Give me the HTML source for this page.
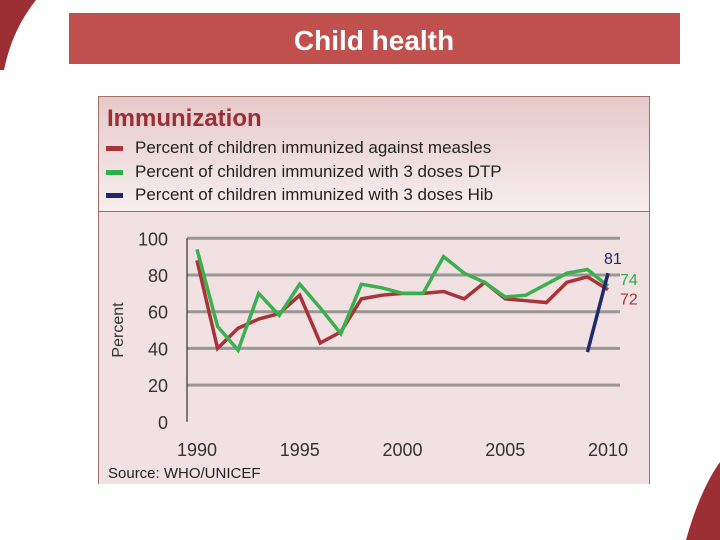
<!DOCTYPE html>
<html><head><meta charset="utf-8"><style>
body{margin:0;width:720px;height:540px;background:#fff;overflow:hidden;position:relative;font-family:"Liberation Sans",sans-serif}
svg{position:absolute;left:0;top:0}
</style></head><body>
<svg width="720" height="540" viewBox="0 0 720 540">
<defs>
<linearGradient id="lg" x1="0" y1="0" x2="0" y2="1"><stop offset="0" stop-color="#e6c9ca"/><stop offset="1" stop-color="#f7eeee"/></linearGradient>
</defs>
<path d="M0 0 L36 0 Q12 30 4 70 L0 70 Z" fill="#9b2f33"/>
<path d="M720 462 Q700 490 686 540 L720 540 Z" fill="#9b2f33"/>
<rect x="69" y="13" width="611" height="51" fill="#c0504d"/>
<text x="374" y="50" text-anchor="middle" font-size="28" font-weight="bold" fill="#fff">Child health</text>
<rect x="98.5" y="96.5" width="551" height="115" fill="url(#lg)" stroke="#a07060"/>
<rect x="98.5" y="212" width="551" height="272" fill="#f2e1e2"/>
<line x1="98.5" y1="212" x2="98.5" y2="484" stroke="#a07060"/><line x1="649.5" y1="212" x2="649.5" y2="484" stroke="#a07060"/>
<text x="107" y="126" font-size="24" font-weight="bold" fill="#9b2f33">Immunization</text>
<g font-size="17" fill="#222">
<rect x="106" y="146" width="17" height="5" fill="#a8343a"/>
<text x="135" y="153">Percent of children immunized against measles</text>
<rect x="106" y="170" width="17" height="5" fill="#2ab04c"/>
<text x="135" y="177">Percent of children immunized with 3 doses DTP</text>
<rect x="106" y="193" width="17" height="5" fill="#1f2a6b"/>
<text x="135" y="200">Percent of children immunized with 3 doses Hib</text>
</g>
<g id="plot"></g>
<text x="108" y="478" font-size="15" fill="#222">Source: WHO/UNICEF</text>
</svg>
<script>
const years=[1990,1991,1992,1993,1994,1995,1996,1997,1998,1999,2000,2001,2002,2003,2004,2005,2006,2007,2008,2009,2010];
const measles=[88,40,51,56,59,69,43,49,67,69,70,70,71,67,76,67,66,65,76,79,72];
const dtp=[94,52,39,70,58,75,62,48,75,73,70,70,90,81,76,68,69,75,81,83,74];
const hibYears=[2009,2010];
const hib=[38,81];
const yTicks=[0,20,40,60,80,100];
const xTicks=[1990,1995,2000,2005,2010];
const endLabels=[{t:"81",v:81,c:"#1f2a6b",dy:-9},{t:"74",v:74,c:"#2ab04c",dy:-1},{t:"72",v:72,c:"#a8343a",dy:15}];
const NS="http://www.w3.org/2000/svg";
const g=document.getElementById('plot');
const X=y=>197+(y-1990)*20.55;
const Y=v=>421.8-v*1.835;
function mk(tag,attrs){const e=document.createElementNS(NS,tag);for(const k in attrs)e.setAttribute(k,attrs[k]);g.appendChild(e);return e;}
yTicks.forEach(v=>{
  if(v>0){const l=mk('line',{x1:187,x2:620,y1:Y(v),y2:Y(v),stroke:'#9a9696','stroke-width':3});
  
  }
  const t=mk('text',{x:168,y:Y(v)+7,'text-anchor':'end','font-size':18,fill:'#333'});t.textContent=v;
  
  
});
const ax=mk('line',{x1:187,x2:187,y1:Y(100),y2:Y(0),stroke:'#333','stroke-width':1.2});


xTicks.forEach(y=>{const t=mk('text',{x:X(y),y:456,'text-anchor':'middle','font-size':18,fill:'#333'});t.textContent=y;
  
  });
const yt=mk('text',{transform:'translate(123,330) rotate(-90)','text-anchor':'middle','font-size':16,fill:'#333'});yt.textContent='Percent';


function line(xs,vs,c,name){const p=mk('polyline',{points:xs.map((y,i)=>X(y)+','+Y(vs[i])).join(' '),fill:'none',stroke:c,'stroke-width':3.5,'stroke-linejoin':'miter'});
  
  }
line(years,measles,'#a8343a','series-measles');
line(years,dtp,'#3ab04f','series-dtp');
line(hibYears,hib,'#1f2a6b','series-hib');
endLabels.forEach(e=>{const t=mk('text',{x:e.t==="81"?604:620,y:Y(e.v)+e.dy,'font-size':16,fill:e.c});t.textContent=e.t;
  
  });
</script>
</body></html>
